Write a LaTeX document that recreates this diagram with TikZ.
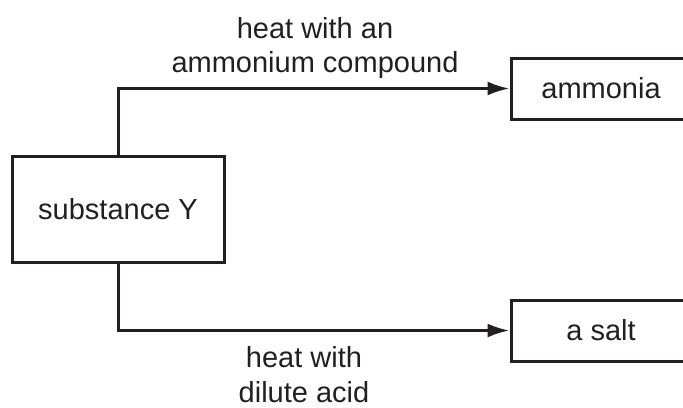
\documentclass[tikz,border=0pt]{standalone}
\usepackage{fontspec}
\setmainfont{Liberation Sans}
\usetikzlibrary{arrows.meta, positioning}
\definecolor{inkgray}{HTML}{231f20}

\begin{document}
\begin{tikzpicture}[
  x=0.5pt, y=-0.5pt,
  bx/.style={rectangle, draw=inkgray, line width=1.5pt, fill=white,
             font=\fontsize{14.5}{17.4}\selectfont, text=inkgray,
             inner sep=0pt},
  lbl/.style={font=\fontsize{14.5}{17.4}\selectfont, text=inkgray,
              align=center, inner sep=0pt},
  arr/.style={-{Latex[length=11pt, width=7pt]}, line width=1.5pt, color=inkgray}
]
\useasboundingbox (0,0) rectangle (683,407);
\node[bx, minimum width=106pt, minimum height=53pt] (sub) at (118,209) {substance Y};
\node[bx, minimum width=90pt, minimum height=30.5pt] (amm) at (601,88.5) {ammonia};
\node[bx, minimum width=90pt, minimum height=30.5pt] (salt) at (601,330.5) {a salt};
\node[lbl] (top) at (315,48) {heat with an\\ammonium compound};
\node[lbl] (bot) at (304,375) {heat with\\dilute acid};

\draw[arr] (sub.north) |- (amm.west);
\draw[arr] (sub.south) |- (salt.west);
\end{tikzpicture}
\end{document}
